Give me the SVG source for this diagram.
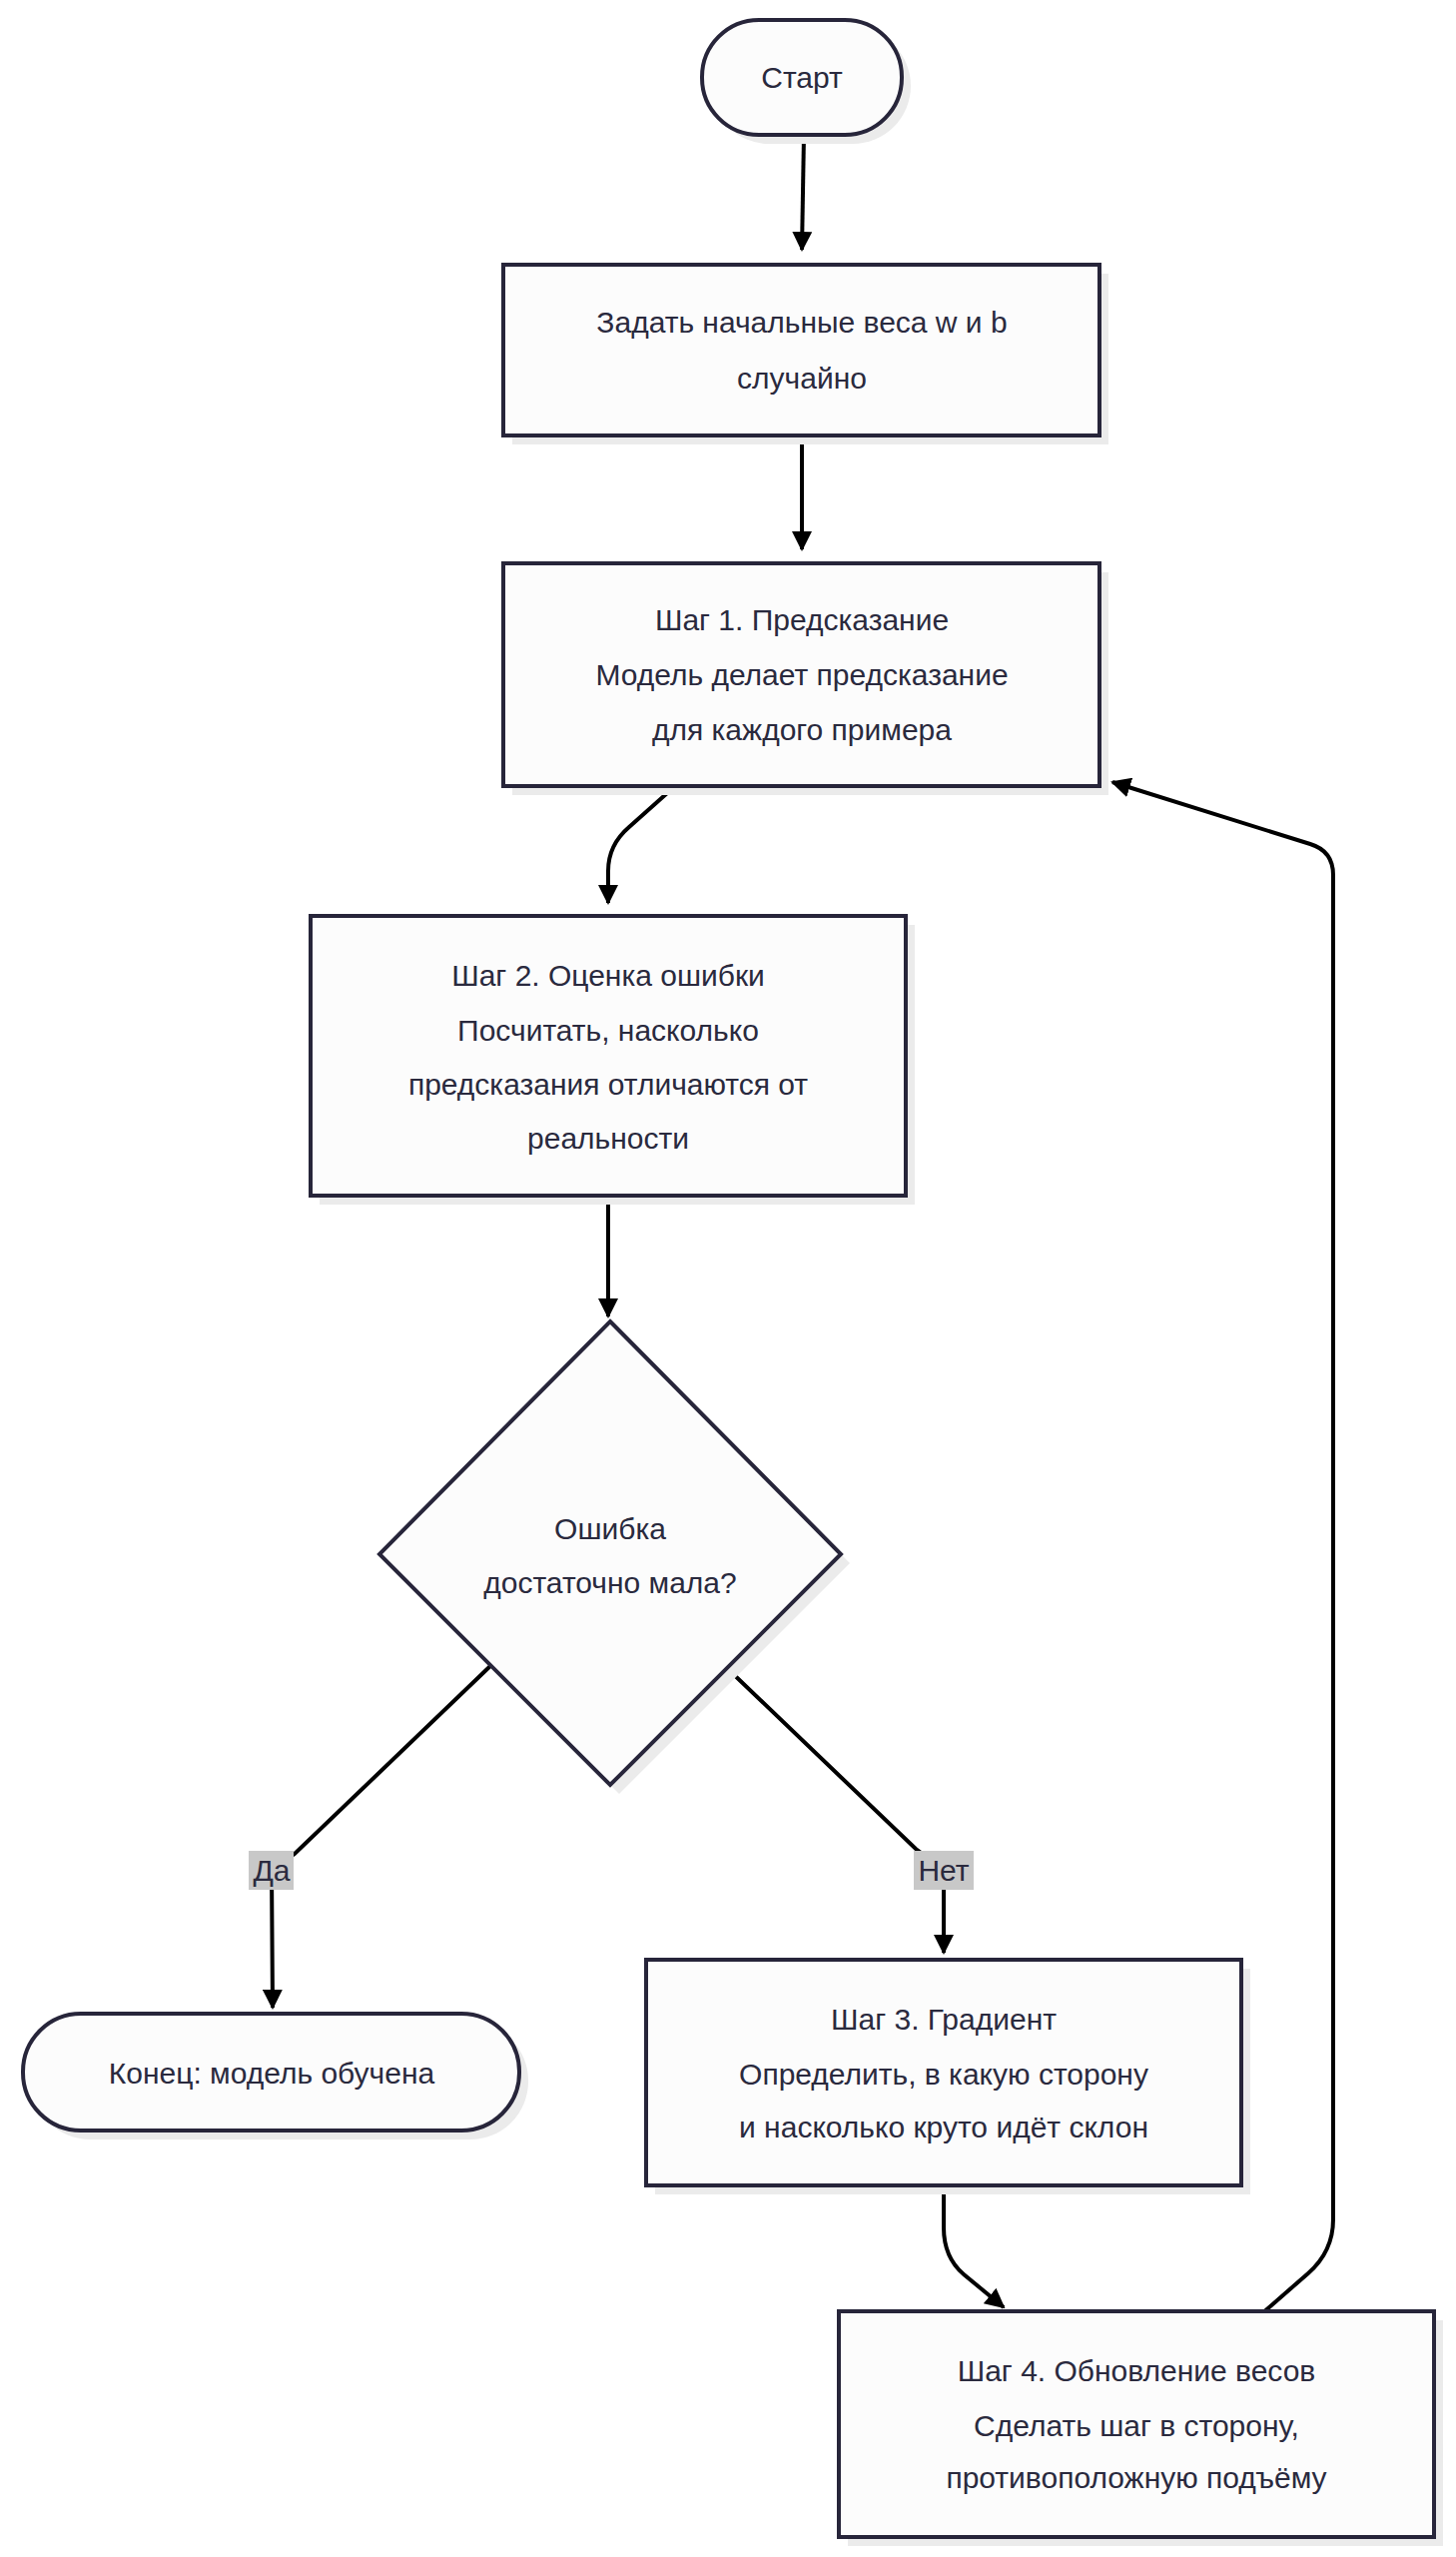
<svg xmlns="http://www.w3.org/2000/svg" width="1458" height="2560" viewBox="0 0 1458 2560">
<style>
.n{fill:#fcfcfc;stroke:#27253a;stroke-width:4}
.sh{fill:#ebebeb}
.t{font-family:"Liberation Sans","DejaVu Sans",sans-serif;font-size:30px;fill:#2a2a3e;text-anchor:middle}
.e{fill:none;stroke:#000;stroke-width:4}
.lb{fill:#c8c8c8}
</style>
<defs><marker id="a" viewBox="0 0 10 10" refX="9" refY="5" markerWidth="5" markerHeight="5" orient="auto-start-reverse" markerUnits="strokeWidth"><path d="M0,0L10,5L0,10z" fill="#000"/></marker></defs>
<rect width="1458" height="2560" fill="#fff"/>
<g id="connectors">
<path class="e" d="M805,135L803,250" marker-end="url(#a)"/>
<path class="e" d="M803,436L803,550" marker-end="url(#a)"/>
<path class="e" d="M676,787L630,828Q609,846 609,872L609,904" marker-end="url(#a)"/>
<path class="e" d="M609,1197L609,1318" marker-end="url(#a)"/>
<path class="e" d="M491,1668L295,1856L272,1872L273,2010" marker-end="url(#a)"/>
<path class="e" d="M729,1671L917,1851L945,1872L945,1955" marker-end="url(#a)"/>
<path class="e" d="M945,2189L945,2230Q945,2260 965,2277L1005,2310" marker-end="url(#a)"/>
<path class="e" d="M1264,2316L1310,2276Q1335,2254 1335,2222L1335,876Q1335,852 1312,845L1114,783" marker-end="url(#a)"/>
</g>
<g id="start"><rect class="sh" x="712" y="28" width="200" height="116" rx="58"/><rect class="n" x="703" y="20" width="200" height="115" rx="57"/><text class="t" x="803" y="88">Старт</text></g>
<g id="init"><rect class="sh" x="513" y="274" width="597" height="171"/><rect class="n" x="504" y="265" width="597" height="171"/><text class="t" x="803" y="333">Задать начальные веса w и b</text><text class="t" x="803" y="389">случайно</text></g>
<g id="step1"><rect class="sh" x="513" y="573" width="597" height="223"/><rect class="n" x="504" y="564" width="597" height="223"/><text class="t" x="803" y="631">Шаг 1. Предсказание</text><text class="t" x="803" y="686">Модель делает предсказание</text><text class="t" x="803" y="741">для каждого примера</text></g>
<g id="step2"><rect class="sh" x="320" y="926" width="596" height="280"/><rect class="n" x="311" y="917" width="596" height="280"/><text class="t" x="609" y="987">Шаг 2. Оценка ошибки</text><text class="t" x="609" y="1042">Посчитать, насколько</text><text class="t" x="609" y="1096">предсказания отличаются от</text><text class="t" x="609" y="1150">реальности</text></g>
<g id="check"><polygon class="sh" points="620,1332 851,1565 620,1796 389,1565"/><polygon class="n" points="611,1323 842,1556 611,1787 380,1556"/><text class="t" x="611" y="1541">Ошибка</text><text class="t" x="611" y="1595">достаточно мала?</text></g>
<g id="lbl-yes"><rect class="lb" x="249" y="1853" width="45" height="39"/><text class="t" x="272" y="1883">Да</text></g>
<g id="lbl-no"><rect class="lb" x="915" y="1853" width="60" height="39"/><text class="t" x="945" y="1883">Нет</text></g>
<g id="end"><rect class="sh" x="32" y="2025" width="497" height="117" rx="58"/><rect class="n" x="23" y="2016" width="497" height="117" rx="58"/><text class="t" x="272" y="2086">Конец: модель обучена</text></g>
<g id="step3"><rect class="sh" x="656" y="1971" width="596" height="226"/><rect class="n" x="647" y="1962" width="596" height="226"/><text class="t" x="945" y="2032">Шаг 3. Градиент</text><text class="t" x="945" y="2087">Определить, в какую сторону</text><text class="t" x="945" y="2140">и насколько круто идёт склон</text></g>
<g id="step4"><rect class="sh" x="849" y="2323" width="596" height="226"/><rect class="n" x="840" y="2314" width="596" height="226"/><text class="t" x="1138" y="2384">Шаг 4. Обновление весов</text><text class="t" x="1138" y="2439">Сделать шаг в сторону,</text><text class="t" x="1138" y="2491">противоположную подъёму</text></g>
</svg>
